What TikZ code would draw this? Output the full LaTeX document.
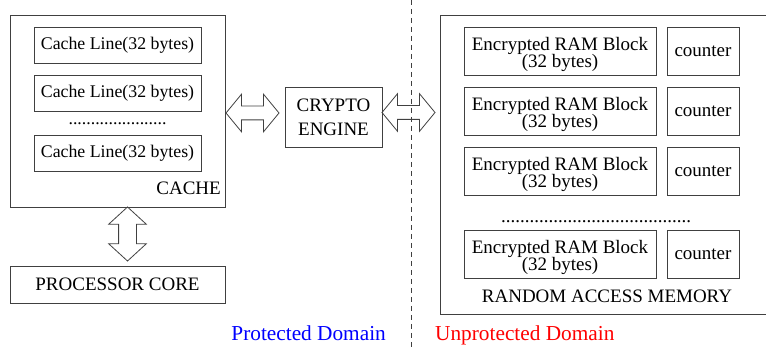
\documentclass[tikz,border=0pt]{standalone}
\usepackage{fontspec}
\setmainfont{Liberation Serif}
\usetikzlibrary{shapes.arrows}
\definecolor{edge}{gray}{0.25}
\tikzset{
  box/.style={draw=edge, line width=0.8pt, inner sep=0pt, align=center},
  linebox/.style={box, minimum width=167pt, minimum height=36pt, font=\fontsize{17.8}{20}\selectfont},
  ramblock/.style={box, minimum width=192pt, minimum height=48pt},
  blocktext/.style={inner sep=0pt, align=center, font=\fontsize{19}{17.5}\selectfont},
  ctrbox/.style={box, minimum width=72pt, minimum height=48pt, font=\fontsize{19}{20}\selectfont},
  lbl/.style={inner sep=0pt, font=\fontsize{19}{20}\selectfont},
  domainlbl/.style={inner sep=0pt, font=\fontsize{21.3}{24}\selectfont},
  darrow/.style={double arrow, draw=edge, line width=0.8pt,
    inner xsep=0pt, inner ysep=6.5pt,
    minimum height=53pt, double arrow head extend=12pt,
    double arrow tip angle=101},
}
\begin{document}
\begin{tikzpicture}[x=1pt, y=-1pt]
\useasboundingbox (0,0) rectangle (766,347);

% protection boundary
\draw[edge, line width=0.8pt, dash pattern=on 5pt off 4pt] (411,0) -- (411,347);

% cache with its lines
\node[box, minimum width=215pt, minimum height=192pt] (cache) at (117.5,111) {};
\node[linebox] (cl1) at (117.5,45) {Cache Line(32 bytes)};
\node[linebox] (cl2) at (117.5,93) {Cache Line(32 bytes)};
\node[lbl, font=\fontsize{17.8}{20}\selectfont] (cdots) at (117.5,124) {......................};
\node[linebox] (cl3) at (117.5,153) {Cache Line(32 bytes)};
\node[lbl, anchor=base east] (cachelbl) at (221,195) {CACHE};

% processor core
\node[box, minimum width=215pt, minimum height=37pt, font=\fontsize{19}{20}\selectfont] (core) at (117.5,284.5) {PROCESSOR CORE};

% crypto engine
\node[box, minimum width=97pt, minimum height=60pt, font=\fontsize{19}{24}\selectfont] (crypto) at (333.5,117) {CRYPTO\\ENGINE};

% random access memory
\node[box, minimum width=330pt, minimum height=299pt] (ram) at (605,164.5) {};
\node[ramblock] (rb1) at (560,51) {};
\node[blocktext] at ([yshift=-3.5pt]rb1.center) {Encrypted RAM Block\\(32 bytes)};
\node[ctrbox] (ct1) at (703,51) {counter};
\node[ramblock] (rb2) at (560,111) {};
\node[blocktext] at ([yshift=-3.5pt]rb2.center) {Encrypted RAM Block\\(32 bytes)};
\node[ctrbox] (ct2) at (703,111) {counter};
\node[ramblock] (rb3) at (560,171) {};
\node[blocktext] at ([yshift=-3.5pt]rb3.center) {Encrypted RAM Block\\(32 bytes)};
\node[ctrbox] (ct3) at (703,171) {counter};
\node[lbl] (rdots) at (596,222) {........................................};
\node[ramblock] (rb4) at (560,254) {};
\node[blocktext] at ([yshift=-3.5pt]rb4.center) {Encrypted RAM Block\\(32 bytes)};
\node[ctrbox] (ct4) at (703,254) {counter};
\node[lbl, anchor=base] (ramlbl) at (607,303) {RANDOM ACCESS MEMORY};

% data paths
\node[darrow] (cache2crypto) at (252.5,113) {};
\node[darrow] (crypto2ram) at (408.5,112.5) {};
\node[darrow, rotate=90, minimum height=54pt, inner ysep=8.5pt,
      double arrow head extend=10pt, double arrow tip angle=95] (cache2core) at (127.5,234) {};

% domain labels
\node[domainlbl, anchor=base east, text=blue] (prot) at (386,341) {Protected Domain};
\node[domainlbl, anchor=base west, text=red] (unprot) at (435,341) {Unprotected Domain};
\end{tikzpicture}
\end{document}
